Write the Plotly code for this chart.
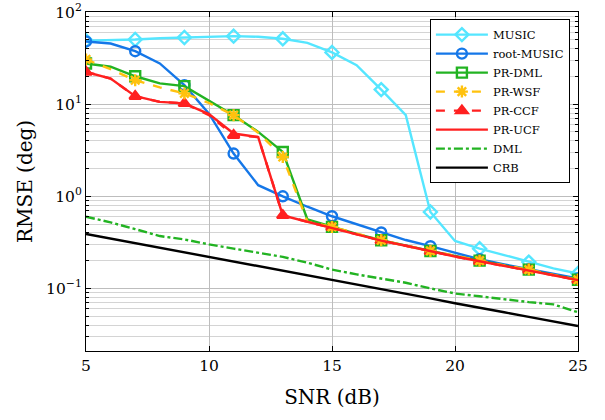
import plotly.graph_objects as go

# SNR grid (dB) - markers every 2 dB, lines every 1 dB
snr = list(range(5, 26))

music = [49, 49.5, 50.4, 52, 53, 54, 54.8, 54, 51.3, 46.4, 36.5, 26.5, 14.4, 7.6,
         0.675, 0.327, 0.27, 0.23, 0.193, 0.165, 0.145]
root_music = [48, 45.6, 37.6, 27.7, 16.1, 7.9, 2.91, 1.32, 1.0, 0.77, 0.607, 0.5,
              0.405, 0.335, 0.287, 0.242, 0.207, 0.182, 0.162, 0.143, 0.128]
pr_dml = [27.7, 25.5, 20.1, 16.8, 15.7, 11.0, 7.6, 5.0, 3.03, 0.56, 0.465, 0.39,
          0.333, 0.29, 0.255, 0.225, 0.2, 0.178, 0.16, 0.14, 0.124]
pr_wsf = [30.6, 24.0, 18.2, 15.2, 13.1, 10.3, 7.6, 4.9, 2.67, 0.53, 0.465, 0.39,
          0.333, 0.29, 0.255, 0.225, 0.2, 0.178, 0.16, 0.14, 0.124]
pr_ccf = [22.4, 19.0, 12.2, 10.6, 10.2, 7.6, 4.6, 4.4, 0.62, 0.53, 0.46, 0.39,
          0.33, 0.29, 0.252, 0.222, 0.197, 0.176, 0.158, 0.139, 0.123]
pr_ucf = [22.4, 19.0, 12.2, 10.6, 10.2, 7.8, 4.8, 4.4, 0.62, 0.53, 0.46, 0.39,
          0.33, 0.29, 0.252, 0.222, 0.197, 0.176, 0.158, 0.139, 0.123]
dml = [0.6, 0.52, 0.44, 0.37, 0.34, 0.3, 0.27, 0.245, 0.22, 0.19, 0.16, 0.142,
       0.128, 0.115, 0.1, 0.088, 0.082, 0.076, 0.071, 0.067, 0.055]
crb = [0.39, 0.348, 0.31, 0.276, 0.246, 0.219, 0.195, 0.174, 0.155, 0.138, 0.123,
       0.11, 0.098, 0.087, 0.078, 0.069, 0.062, 0.055, 0.049, 0.044, 0.039]

y_tickvals = [0.1, 1, 10, 100]
y_ticktext = ["10<sup>\u22121</sup>", "10<sup>0</sup>", "10<sup>1</sup>", "10<sup>2</sup>"]

CYAN = "#55e6ff"
BLUE = "#1577e8"
GREEN = "#22b322"
GOLD = "#ffc20e"
RED = "#ff2020"

# name, data, color, dash, marker symbol, legend rank
series = [
    ("MUSIC", music, CYAN, "solid", "diamond-open", 100),
    ("root-MUSIC", root_music, BLUE, "solid", "circle-open", 200),
    ("PR-DML", pr_dml, GREEN, "solid", "square-open", 300),
    ("PR-CCF", pr_ccf, RED, "dash", "triangle-up", 500),
    ("PR-WSF", pr_wsf, GOLD, "dash", "asterisk-open", 400),
    ("PR-UCF", pr_ucf, RED, "solid", None, 600),
    ("DML", dml, GREEN, "dashdot", None, 700),
    ("CRB", crb, "black", "solid", None, 800),
]

fig = go.Figure()
for name, ys, color, dash, symbol, rank in series:
    line = dict(color=color, width=2.4, dash=dash)
    fig.add_trace(go.Scatter(x=snr, y=ys, mode="lines", line=line,
                             legendgroup=name, showlegend=False))
    if symbol:
        mk = dict(symbol=symbol, size=10, color=color, line=dict(color=color, width=2.4))
        fig.add_trace(go.Scatter(x=snr[::2], y=ys[::2], mode="markers", marker=mk,
                                 legendgroup=name, showlegend=False))
        # legend entry (line + marker)
        fig.add_trace(go.Scatter(x=[None], y=[None], mode="lines+markers", name=name,
                                 line=line, marker=mk, legendgroup=name, legendrank=rank))
    else:
        fig.add_trace(go.Scatter(x=[None], y=[None], mode="lines", name=name,
                                 line=line, legendgroup=name, legendrank=rank))

FONT = "DejaVu Serif"
fig.update_layout(
    width=605, height=420,
    margin=dict(l=86, r=27, t=12, b=69),
    paper_bgcolor="white", plot_bgcolor="white",
    font=dict(family=FONT, color="black", size=15.5),
    legend=dict(x=0.699, y=0.979, xanchor="left", yanchor="top",
                bgcolor="white", bordercolor="black", borderwidth=1,
                font=dict(family=FONT, size=11.5), tracegroupgap=0,
                itemwidth=52),
)
fig.update_xaxes(
    range=[5, 25], tickvals=[5, 10, 15, 20, 25],
    showgrid=True, gridcolor="#bdbdbd", gridwidth=1,
    showline=True, linecolor="black", linewidth=1.2, mirror="allticks",
    ticks="inside", ticklen=5, tickcolor="black", zeroline=False,
    title=dict(text="SNR (dB)", font=dict(size=20), standoff=16),
)
fig.update_yaxes(
    type="log", range=[-1.68, 2.001],
    tickvals=y_tickvals, ticktext=y_ticktext,
    ticklabeloverflow="allow", automargin=False,
    showgrid=True, gridcolor="#bdbdbd", gridwidth=1,
    showline=True, linecolor="black", linewidth=1.2, mirror="allticks",
    ticks="inside", ticklen=5, tickcolor="black", zeroline=False,
    minor=dict(dtick="D1", showgrid=True, gridcolor="#d4d4d4", ticks="inside",
               ticklen=3, tickcolor="black"),
    title=dict(text="RMSE (deg)", font=dict(size=20), standoff=8),
)

# drop the page's default body margin so the figure sits at the window corner
fig.write_html("out.html", config={"displayModeBar": False},
               post_script="document.body.style.margin='0';")
